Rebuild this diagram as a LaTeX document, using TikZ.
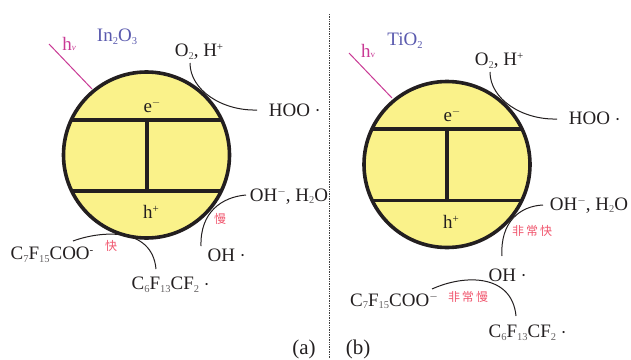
\documentclass[tikz,border=0pt]{standalone}
\usepackage{fontspec}
\setmainfont{Liberation Serif}
\newfontfamily\cjkf{Noto Sans CJK SC}
\definecolor{ballfill}{HTML}{FAF28A}
\definecolor{hvcol}{HTML}{C93A95}
\definecolor{matcol}{HTML}{5A5AAE}
\definecolor{redtxt}{HTML}{F0566E}
\definecolor{inkc}{HTML}{231F20}
\newcommand{\dn}[1]{\raisebox{-0.3ex}{\fontsize{10.5}{10}\selectfont\textcolor{inkc!70}{#1}}}
\newcommand{\dnm}[1]{\raisebox{-0.3ex}{\fontsize{10.5}{10}\selectfont #1}}
\newcommand{\up}[1]{\raisebox{0.75ex}{\fontsize{11}{10}\selectfont #1}}
\newcommand{\rad}{\hspace{6pt}\raisebox{0.28ex}{\fontsize{9}{7}\selectfont\textbullet}}
\tikzset{
  ball/.style={circle,draw=inkc,line width=3.6pt,fill=ballfill,minimum size=166pt,inner sep=0pt},
  band/.style={draw=inkc,line width=3.2pt},
  link/.style={draw=inkc,line width=1pt},
  light/.style={draw=hvcol,line width=1pt},
  lab/.style={font=\fontsize{19}{19}\selectfont,text=inkc,inner sep=0pt},
  mat/.style={font=\fontsize{19}{19}\selectfont,text=matcol,inner sep=0pt},
  hv/.style={font=\fontsize{19}{19}\selectfont,text=hvcol,inner sep=0pt},
  note/.style={font=\cjkf\fontsize{12}{12}\selectfont,text=redtxt,inner sep=0pt},
  sep/.style={draw=black!75,densely dotted,line width=0.7pt}
}
\begin{document}
\begin{tikzpicture}[x=1pt,y=-1pt]
\useasboundingbox (0,0) rectangle (631,359);
% divider
\coordinate (st) at (329.5,14); \coordinate (sb) at (329.5,359);
\draw[sep] (st) -- (sb);
% ---------- (a)
\node[ball] (A) at (146.5,155) {};
\coordinate (a1l) at (72,120); \coordinate (a1r) at (221,120);
\coordinate (a2l) at (73,191); \coordinate (a2r) at (222,191);
\coordinate (a1m) at (147,120); \coordinate (a2m) at (147,191);
\draw[band] (a1l) -- (a1r); \draw[band] (a2l) -- (a2r); \draw[band] (a1m) -- (a2m);
\node[lab] (ae) at (152,106) {e\up{$-$}};
\node[lab] (ah) at (151,212) {h\up{+}};
\node[mat] (amat) at (117,37) {In\dnm{2}O\dnm{3}};
\node[hv] (ahv) at (69,44) {h\raisebox{-0.1ex}{\fontsize{9}{9}\selectfont\textit{v}}};
\coordinate (ahs) at (49,44); \coordinate (ahe) at (92,89);
\draw[light] (ahs) -- (ahe);
\node[lab] (ao) at (199,52) {O\dn{2}, H\up{+}};
\node[lab] (ahoo) at (294,110) {HOO\rad};
\coordinate (ao1) at (190,63); \coordinate (ao2) at (257,110);
\draw[link] (ao1) .. controls (190,90) and (222,111) .. (ao2);
\node[lab] (aoh) at (289,196) {OH\up{$-$}, H\dn{2}O};
\node[lab] (aoh2) at (226,255) {OH\rad};
\coordinate (ab1) at (246,195); \coordinate (ab2) at (201,246);
\draw[link] (ab1) .. controls (222,197) and (200,212) .. (ab2);
\node[lab] (ac7) at (52,255) {C\dn{7}F\dn{15}COO\up{-}};
\node[lab] (ac6) at (170,285) {C\dn{6}F\dn{13}CF\dn{2}\rad};
\coordinate (ac1) at (73,241); \coordinate (ac2) at (156,269);
\draw[link] (ac1) .. controls (100,231) and (152,226) .. (ac2);
\node[note] (afast) at (111,246) {快};
\node[note] (aslow) at (220,219) {慢};
\node[font=\fontsize{21}{21}\selectfont,text=inkc,inner sep=0pt] (acap) at (304,349) {(a)};
% ---------- (b)
\node[ball] (B) at (447,164.5) {};
\coordinate (b1l) at (372,129); \coordinate (b1r) at (522,129);
\coordinate (b2l) at (372,200.5); \coordinate (b2r) at (522,200.5);
\coordinate (b1m) at (447,129); \coordinate (b2m) at (447,200.5);
\draw[band] (b1l) -- (b1r); \draw[band] (b2l) -- (b2r); \draw[band] (b1m) -- (b2m);
\node[lab] (be) at (452,115) {e\up{$-$}};
\node[lab] (bh) at (451,222) {h\up{+}};
\node[mat] (bmat) at (405,41) {TiO\dnm{2}};
\node[hv] (bhv) at (368,51) {h\raisebox{-0.1ex}{\fontsize{9}{9}\selectfont v}};
\coordinate (bhs) at (349,53); \coordinate (bhe) at (392,98);
\draw[light] (bhs) -- (bhe);
\node[lab] (bo) at (499,61) {O\dn{2}, H\up{+}};
\node[lab] (bhoo) at (594,118.5) {HOO\rad};
\coordinate (bo1) at (490,72); \coordinate (bo2) at (557,119);
\draw[link] (bo1) .. controls (490,99) and (522,120) .. (bo2);
\node[lab] (boh) at (589,205) {OH\up{$-$}, H\dn{2}O};
\node[lab] (boh2) at (507,275) {OH\rad};
\coordinate (bb1) at (543,205); \coordinate (bb2) at (502,256);
\draw[link] (bb1) .. controls (520,206) and (500,222) .. (bb2);
\node[lab] (bc7) at (394,301) {C\dn{7}F\dn{15}COO\up{$-$}};
\node[lab] (bc6) at (527,333) {C\dn{6}F\dn{13}CF\dn{2}\rad};
\coordinate (bc1) at (432,289); \coordinate (bc2) at (516,316);
\draw[link] (bc1) .. controls (465,274) and (512,274) .. (bc2);
\node[note] (bfast) at (532,231) {非\hspace{2pt}常\hspace{2pt}快};
\node[note] (bslow) at (468,297) {非\hspace{2pt}常\hspace{2pt}慢};
\node[font=\fontsize{21}{21}\selectfont,text=inkc,inner sep=0pt] (bcap) at (358,349) {(b)};
\end{tikzpicture}
\end{document}
